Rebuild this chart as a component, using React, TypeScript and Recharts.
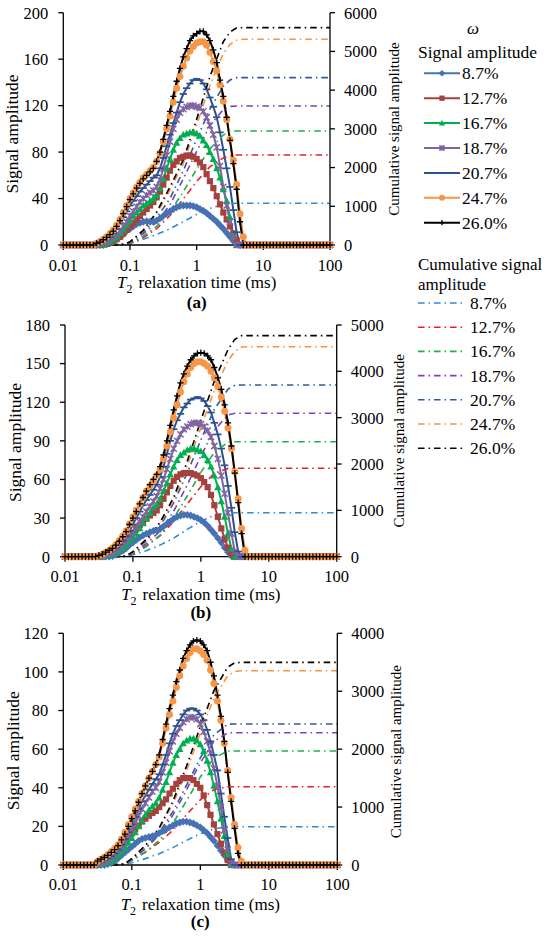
import React from 'react';
import { LineChart, Line, XAxis, YAxis } from 'recharts';

const FONT = "'Liberation Serif', 'Times New Roman', Times, serif";

// T2 grid (ms), 20 points per decade
const T2 = [0.01, 0.0112, 0.0126, 0.0141, 0.0158, 0.0178, 0.02, 0.0224, 0.0251, 0.0282,
  0.0316, 0.0355, 0.0398, 0.0447, 0.0501, 0.0562, 0.0631, 0.0708, 0.0794, 0.0891,
  0.1, 0.112, 0.126, 0.141, 0.158, 0.178, 0.2, 0.224, 0.251, 0.282,
  0.316, 0.355, 0.398, 0.447, 0.501, 0.562, 0.631, 0.708, 0.794, 0.891,
  1, 1.12, 1.26, 1.41, 1.58, 1.78, 2, 2.24, 2.51, 2.82,
  3.16, 3.55, 3.98, 4.47, 5.01, 5.62, 6.31, 7.08, 7.94, 8.91,
  10, 11.2, 12.6, 14.1, 15.8, 17.8, 20, 22.4, 25.1, 28.2,
  31.6, 35.5, 39.8, 44.7, 50.1, 56.2, 63.1, 70.8, 79.4, 89.1, 100];
// signal arrays below hold the values for T2[10] .. T2[55]; all other grid points read as 0
const START = 10;

// T2 grid of the cumulative curves
const CT = [0.01, 0.0501, 0.0794, 0.1, 0.158, 0.251, 0.398, 0.631, 1, 1.58, 2.51, 3.16, 3.98, 5.01, 100];

const SERIES = ['8.7%', '12.7%', '16.7%', '18.7%', '20.7%', '24.7%', '26.0%'];

// ---- panel (a) signal amplitude ----
const A_087 = [0,0,0,0.5,1.5,3,5,7,9,12, 14,16,18,19,20,20.5,20,20,21,23, 25,27,29,31,32.5,33.5,34,34,34,33.5, 32.5,31,29.5,27.5,25,22.5,20,17,14,10.5, 7,3.5,0.5,0,0,0];
const A_127 = [0,0,0.5,1,2,3,5,7,10,13, 16,19,22,25,28,31,34,37,41,46, 52,58,64,69,72,75,76,77,77,76, 74,71,67,61,55,49,42,35,28,22, 16,10,4,0,0,0];
const A_167 = [0,0.5,1,2,3,5,7,10,13,17, 21,25,28,31,34,36,38,40,43,49, 57,66,74,82,88,92,95,96,97,97, 96,94,90,86,80,74,66,58,48,38, 24,9,0,0,0,0];
const A_187 = [0.5,1,2,3.5,5,7,9,12,16,20, 25,29,33,37,40,43,45,47,50,56, 66,77,89,100,108,114,117,119,120,120, 119,118,115,110,103,95,84,68,50,34, 20,7,0,0,0,0];
const A_207 = [1,2,3.5,5,7,10,14,19,24,29, 34,38,42,46,49,52,55,58,60,66, 75,85,95,105,114,123,130,135,139,142, 143,142,139,134,127,119,110,97,82,66, 50,30,11,0,0,0];
const A_247 = [1.5,3,5,7,10,13,17,22,28,34, 40,45,50,54,58,61,64,67,72,79, 89,100,111,123,135,145,154,161,167,171, 174,175,175,172,166,158,150,138,124,108, 91,73,52,27,7,0];
const A_260 = [1.5,2.5,4.5,6.5,9,12,16,21,27,33, 39,44,49,53,57,60,63,66,72,80, 91,103,115,128,141,152,162,169,176,180, 182,184,184,181,176,168,157,142,128,110, 90,70,48,20,0,0];
// ---- panel (a) cumulative ----
const CA_087 = [0,0,10,40,150,270,420,600,790,945,1045,1070,1077,1077,1077];
const CA_127 = [0,0,8,40,190,420,760,1190,1640,2020,2250,2305,2325,2325,2325];
const CA_167 = [0,0,10,45,230,480,850,1380,1960,2480,2840,2935,2945,2945,2945];
const CA_187 = [0,0,15,60,290,590,1040,1710,2420,3080,3500,3580,3590,3590,3590];
const CA_207 = [0,0,20,80,330,700,1200,1920,2730,3510,4100,4260,4322,4322,4322];
const CA_247 = [0,0,20,80,370,800,1420,2100,3100,4120,4950,5180,5290,5313,5313];
const CA_260 = [0,0,20,80,380,850,1500,2200,3250,4350,5250,5500,5610,5614,5614];

// ---- panel (b) signal amplitude ----
const B_087 = [0,0,0,0,0.5,1.5,3,4.5,6.5,9, 11,13,15,16.5,18,19,20,20.5,21.5,23.5, 25.5,27.5,29.5,31,32,32.5,32.5,32,31,30, 28.5,26.5,24,21,18,14.5,11,7,3.5,0.5, 0,0,0,0,0,0];
const B_127 = [0,0.5,1,2,3.5,5,7,9.5,12.5,15.5, 18.5,21.5,24.5,27,29.5,32,34,36,40,45, 50,55,59,62,64,65,65,65,64,63, 61,58,54,48,40,31,22,14,7,2, 0,0,0,0,0,0];
const B_167 = [0,0,0.5,1,2,3,4.5,6.5,9,12, 15,18,22,26,30,34,38,41,45,51, 57,64,70,75,79,81,83,84,84,83, 82,79,75,70,63,54,43,31,18,6, 0,0,0,0,0,0];
const B_187 = [0,0.5,1,2,3,4.5,6.5,9,12,15.5, 19,23,27,31,35,39,43,47,53,60, 68,76,84,90,95,99,101,103,104,104, 103,101,98,93,86,76,63,49,34,18, 4,0,0,0,0,0];
const B_207 = [0.5,1,2,3.5,5,7,9.5,12.5,16,20, 25,30,35,40,44,48,52,56,62,70, 80,90,99,106,111,116,119,122,123,124, 123,121,117,112,104,95,84,71,55,38, 19,4,0,0,0,0];
const B_247 = [1,2,3.5,5,7,9.5,12.5,16,20,25.5, 31,36,41,46,51,55,59,63,68,76, 86,97,108,118,128,136,142,147,150,151.5, 151.5,150,148,144,139,132,124,113,100,84, 66,45,22,5,0,0];
const B_260 = [1,2,3.5,5,6.5,9,12,15.5,19.5,25, 30,35,41,46,51,56,60,64,70,79, 90,102,114,125,135,142,148,153,156,158, 158.5,158,156,153,147,139,130,118,104,86, 65,42,18,0,0,0];
// ---- panel (b) cumulative ----
const CB_087 = [0,0,10,40,130,250,400,590,765,895,948,950,950,950,950];
const CB_127 = [0,0,15,80,240,450,760,1140,1510,1800,1905,1908,1908,1908,1908];
const CB_167 = [0,0,6,50,220,465,830,1310,1820,2250,2472,2482,2482,2482,2482];
const CB_187 = [0,0,8,70,280,550,980,1550,2170,2730,3060,3095,3095,3095,3095];
const CB_207 = [0,0,12,90,340,660,1160,1810,2520,3180,3615,3700,3705,3705,3705];
const CB_247 = [0,0,15,100,370,710,1220,1960,2790,3590,4230,4430,4525,4532,4532];
const CB_260 = [0,0,15,110,380,740,1280,2060,2940,3790,4470,4690,4770,4770,4770];

// ---- panel (c) signal amplitude ----
const C_087 = [0,0,0,0.5,1,2,3.5,5,6.5,8, 9.5,11,12.5,13.5,14,14.5,15,15.5,16.5,17.5, 18.5,19.5,20.5,21.5,22,22.5,22.5,22,21.5,20.5, 19.5,18,16.5,14.5,12.5,10,7.5,5,2.5,0.5, 0,0,0,0,0,0];
const C_127 = [0.5,1,1.5,2.5,4,5.5,7,9,11.5,14, 16.5,18.5,20.5,22.5,24,25.5,27,28,30,32, 34,37,39.5,42,44,45,45,45,44,42, 40,36,31,26,21,16,11,6.5,2.5,0, 0,0,0,0,0,0];
const C_167 = [0,0.5,1,1.5,2.5,3.5,5,7,9,11.5, 14,17,20,23,26,28.5,30.5,32,35,39, 43,48,53,57,60,63,64.5,65.5,65.5,64.5, 62.5,59,54,48,41,33,24,15,6,0, 0,0,0,0,0,0];
const C_187 = [0.5,1,1.5,2.5,3.5,5,7,9,12,15, 18.5,22,25.5,29,32,35,38,40,43,48, 53,59,64,68,71,74,75.5,76.5,76.5,75.5, 73,69,64,58,50,41,30,18,8,1, 0,0,0,0,0,0];
const C_207 = [1,1.5,2.5,3.5,4.5,6,8,10.5,13.5,17, 21,25,29,33,36,39,42,44.5,47,52, 57,63,68,72,75,78,80,81,81,80, 78,75,70,64,57,49,37,25,14,3, 0,0,0,0,0,0];
const C_247 = [2,3,4,5.5,7,8.5,10.5,13.5,17,21, 25,29,33,37,41,45,48.5,52,56,63, 71,78,85,92,98,103,107,110,112,112, 111,109,106,101,94,85,75,63,49,35, 21,9,2,0,0,0];
const C_260 = [2,3,4,5,6.5,8,10,13,16,20, 24,28,32.5,37,41,45,48.5,52,57,65, 73,81,88,95,101,107,111,114,116,116.5, 116,114,111,105,98,88,77,64,48,33, 19,6,0,0,0,0];
// ---- panel (c) cumulative ----
const CC_087 = [0,0,12,40,110,195,300,425,540,625,660,661,661,661,661];
const CC_127 = [0,0,25,90,220,390,600,870,1125,1300,1352,1352,1352,1352,1352];
const CC_167 = [0,0,10,75,225,425,720,1110,1520,1845,1968,1968,1968,1968,1968];
const CC_187 = [0,0,15,95,280,520,860,1300,1765,2135,2282,2284,2284,2284,2284];
const CC_207 = [0,0,20,110,300,560,920,1380,1850,2245,2430,2434,2434,2434,2434];
const CC_247 = [0,0,20,105,330,620,1050,1630,2280,2880,3270,3340,3354,3354,3354];
const CC_260 = [0,0,20,110,340,640,1100,1710,2390,3010,3415,3490,3498,3498,3498];

const X_TICKS = [0.01, 0.1, 1, 10, 100];
const A_LEFT_TICKS = [0, 40, 80, 120, 160, 200];
const A_RIGHT_TICKS = [0, 1000, 2000, 3000, 4000, 5000, 6000];
const B_LEFT_TICKS = [0, 30, 60, 90, 120, 150, 180];
const B_RIGHT_TICKS = [0, 1000, 2000, 3000, 4000, 5000];
const C_LEFT_TICKS = [0, 20, 40, 60, 80, 100, 120];
const C_RIGHT_TICKS = [0, 1000, 2000, 3000, 4000];

const SIGNAL_COLORS = ['#4672B5', '#A5423E', '#00B050', '#8064A2', '#2B5290', '#F79646', '#000000'];
const CUM_COLORS = ['#2E8BD8', '#EE1C25', '#1FB04E', '#7B3FBF', '#2E5A9E', '#FA9140', '#000000'];
const MARKERS = ['diamond', 'square', 'triangle', 'star', 'dash', 'circle', 'plus'];

function markerEl(shape: string, x: number, y: number, color: string, k: string, sc = 1) {
  switch (shape) {
    case 'diamond': {
      const s = 3.9 * sc;
      return <path key={k} d={`M${x},${y - s}L${x + s},${y}L${x},${y + s}L${x - s},${y}Z`} fill={color} />;
    }
    case 'square': {
      const s = 3.1 * sc;
      return <rect key={k} x={x - s} y={y - s} width={2 * s} height={2 * s} fill={color} />;
    }
    case 'triangle': {
      const s = 3.7 * sc;
      return <path key={k} d={`M${x},${y - s}L${x + s},${y + s * 0.8}L${x - s},${y + s * 0.8}Z`} fill={color} />;
    }
    case 'star': {
      const s = 3.1 * sc;
      return <path key={k} d={`M${x - s},${y - s}L${x + s},${y + s}M${x - s},${y + s}L${x + s},${y - s}M${x},${y - s}L${x},${y + s}`} stroke={color} strokeWidth={1.5} fill="none" />;
    }
    case 'dash': {
      const s = 3.7 * sc;
      return <path key={k} d={`M${x - s},${y}L${x + s},${y}`} stroke={color} strokeWidth={1.7} fill="none" />;
    }
    case 'circle':
      return <circle key={k} cx={x} cy={y} r={3.5 * sc} fill={color} />;
    default: {
      const s = 3.1 * sc;
      return <path key={k} d={`M${x - s},${y}L${x + s},${y}M${x},${y - s}L${x},${y + s}`} stroke={color} strokeWidth={1.3} fill="none" />;
    }
  }
}

const toSignal = (vals: number[]) =>
  T2.map((x, i) => ({ x, y: i >= START && i < START + vals.length ? vals[i - START] : 0 }));
const toCum = (vals: number[]) => CT.map((x, i) => ({ x, y: vals[i] }));

const PANELS = [
  {
    id: 'a', top: 0, height: 300, mTop: 12.7, leftW: 63.3, rightW: 90, xH: 55,
    leftMax: 200, leftTicks: A_LEFT_TICKS, rightMax: 6000, rightTicks: A_RIGHT_TICKS,
    signal: [A_087, A_127, A_167, A_187, A_207, A_247, A_260],
    cum: [CA_087, CA_127, CA_167, CA_187, CA_207, CA_247, CA_260],
  },
  {
    id: 'b', top: 300, height: 320, mTop: 25, leftW: 65, rightW: 83.3, xH: 63.3,
    leftMax: 180, leftTicks: B_LEFT_TICKS, rightMax: 5000, rightTicks: B_RIGHT_TICKS,
    signal: [B_087, B_127, B_167, B_187, B_207, B_247, B_260],
    cum: [CB_087, CB_127, CB_167, CB_187, CB_207, CB_247, CB_260],
  },
  {
    id: 'c', top: 620, height: 317, mTop: 13.3, leftW: 63.3, rightW: 82.7, xH: 72,
    leftMax: 120, leftTicks: C_LEFT_TICKS, rightMax: 4000, rightTicks: C_RIGHT_TICKS,
    signal: [C_087, C_127, C_167, C_187, C_207, C_247, C_260],
    cum: [CC_087, CC_127, CC_167, CC_187, CC_207, CC_247, CC_260],
  },
];

// text positions in page coordinates
const TITLES = [
  { id: 'a', lx: 18, ly: 134, rx: 399, ry: 129, cx: 196.7, tb: 288, lb: 308 },
  { id: 'b', lx: 21, ly: 442.5, rx: 404, ry: 440.8, cx: 200.8, tb: 599.5, lb: 618 },
  { id: 'c', lx: 19.5, ly: 750.8, rx: 401, ry: 751.7, cx: 200.3, tb: 909.5, lb: 927 },
];

const tickStyle = { fontSize: 16.5, fill: '#000', fontFamily: FONT };
const axisStyle = { stroke: '#000', strokeWidth: 1.3 };

function Panel({ p }: { p: typeof PANELS[number] }) {
  return (
    <div style={{ position: 'absolute', left: 0, top: p.top }}>
      <LineChart width={420} height={p.height} margin={{ top: p.mTop, right: 0, bottom: 0, left: 0 }}>
        <XAxis
          type="number" dataKey="x" scale="log" domain={[0.01, 100]} ticks={X_TICKS} interval={0}
          height={p.xH} tickSize={5} tickMargin={p.id === 'c' ? 8 : 9} tick={tickStyle} axisLine={axisStyle}
          tickLine={axisStyle} tickFormatter={(v: number) => String(v)}
        />
        <YAxis
          yAxisId="l" type="number" domain={[0, p.leftMax]} ticks={p.leftTicks} interval={0}
          width={p.leftW} tickSize={5} tickMargin={10} tick={tickStyle} axisLine={axisStyle} tickLine={axisStyle}
        />
        <YAxis
          yAxisId="r" orientation="right" type="number" domain={[0, p.rightMax]} ticks={p.rightTicks} interval={0}
          width={p.rightW} tickSize={5} tickMargin={9} tick={tickStyle} axisLine={axisStyle} tickLine={axisStyle}
        />
        {p.signal.map((vals, k) => (
          <Line
            key={`s${k}`} yAxisId="l" data={toSignal(vals)} dataKey="y" type="linear"
            stroke={SIGNAL_COLORS[k]} strokeWidth={2} isAnimationActive={false} activeDot={false}
            dot={(d: any) => markerEl(MARKERS[k], d.cx, d.cy, SIGNAL_COLORS[k], `m${k}-${d.index}`)}
          />
        ))}
        {p.cum.map((vals, k) => (
          <Line
            key={`c${k}`} yAxisId="r" data={toCum(vals)} dataKey="y" type="linear"
            stroke={CUM_COLORS[k]} strokeWidth={1.6} strokeDasharray="6.5 4 1.5 4"
            isAnimationActive={false} dot={false} activeDot={false}
          />
        ))}
      </LineChart>
    </div>
  );
}

function Overlay() {
  const t = { fontFamily: FONT, fill: '#000' };
  const sigY0 = 73.3, sigStep = 24.9;
  const cumY0 = 303, cumStep = 24.2;
  return (
    <svg width={550} height={937} style={{ position: 'absolute', left: 0, top: 0, pointerEvents: 'none' }}>
      {TITLES.map((q) => (
        <g key={q.id}>
          <text {...t} fontSize={17.5} x={q.lx} y={q.ly} textAnchor="middle" transform={`rotate(-90 ${q.lx} ${q.ly})`}>
            Signal amplitude
          </text>
          <text {...t} fontSize={15} x={q.rx} y={q.ry} textAnchor="middle" transform={`rotate(-90 ${q.rx} ${q.ry})`}>
            Cumulative signal amplitude
          </text>
          <text {...t} fontSize={17} x={q.cx} y={q.tb} textAnchor="middle">
            <tspan fontStyle="italic">T</tspan>
            <tspan fontSize={12} dy={5}>2</tspan>
            <tspan dy={-5} dx={6}>relaxation time (ms)</tspan>
          </text>
          <text {...t} fontSize={17} fontWeight="bold" x={q.cx} y={q.lb} textAnchor="middle">
            ({q.id})
          </text>
        </g>
      ))}
      <text {...t} fontSize={17} fontStyle="italic" x={473} y={34} textAnchor="middle">ω</text>
      <text {...t} fontSize={17.5} x={418} y={58}>Signal amplitude</text>
      {SERIES.map((s, k) => {
        const y = sigY0 + k * sigStep;
        return (
          <g key={`ls${k}`}>
            <line x1={424} x2={460} y1={y} y2={y} stroke={SIGNAL_COLORS[k]} strokeWidth={2} />
            {markerEl(MARKERS[k], 442, y, SIGNAL_COLORS[k], `lm${k}`, 0.85)}
            <text {...t} fontSize={17.5} x={462} y={y + 6}>{s}</text>
          </g>
        );
      })}
      <text {...t} fontSize={17} x={418} y={270}>Cumulative signal</text>
      <text {...t} fontSize={17} x={418} y={290}>amplitude</text>
      {SERIES.map((s, k) => {
        const y = cumY0 + k * cumStep;
        return (
          <g key={`lc${k}`}>
            <line x1={418} x2={465} y1={y} y2={y} stroke={CUM_COLORS[k]} strokeWidth={1.6} strokeDasharray="6.5 4 1.5 4" />
            <text {...t} fontSize={17.5} x={470} y={y + 6}>{s}</text>
          </g>
        );
      })}
    </svg>
  );
}

export default function App() {
  return (
    <div style={{ position: 'absolute', left: 0, top: 0, width: 550, height: 937, background: '#fff', overflow: 'hidden' }}>
      {PANELS.map((p) => (
        <Panel key={p.id} p={p} />
      ))}
      <Overlay />
    </div>
  );
}
